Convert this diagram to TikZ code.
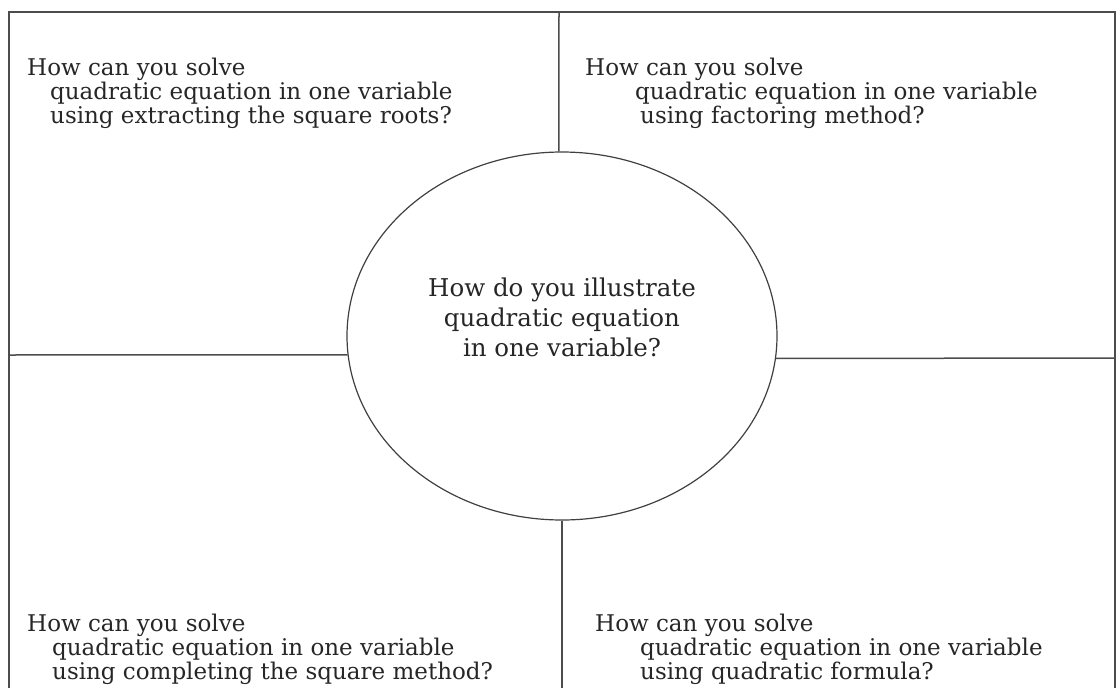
\documentclass[tikz,border=0pt]{standalone}
\usepackage{fontspec}
\setmainfont{DejaVu Serif}
\usetikzlibrary{shapes.geometric}
\begin{document}
\begin{tikzpicture}[x=1pt,y=1pt,
  frame/.style={line width=1.5pt, draw=black!70},
  oval/.style={line width=1.2pt, draw=black!75},
  qtext/.style={anchor=north west, inner sep=0pt, align=left, text=black!85,
    font=\fontsize{23}{24}\selectfont},
  ctext/.style={anchor=north, inner sep=0pt, align=center, text=black!85,
    font=\fontsize{24.5}{30}\selectfont}]
\useasboundingbox (0,0) rectangle (1116,-688);
% outer frame (open at the bottom)
\coordinate (fbl) at (9,-688);
\coordinate (ftl) at (9,-12);
\coordinate (ftr) at (1115,-12);
\coordinate (fbr) at (1115,-688);
\draw[frame] (fbl) -- (ftl) -- (ftr) -- (fbr);
% central ellipse
\node[oval, ellipse, minimum width=430pt, minimum height=368pt, inner sep=0pt] (c) at (562,-336) {};
\coordinate (topend) at (559,-12);
\coordinate (botend) at (562,-688);
\coordinate (lftend) at (9,-355);
\coordinate (rgtend) at (1115,-358);
\draw[frame] (c.91) -- (topend);
\draw[frame] (c.south) -- (botend);
\draw[frame] (c.185) -- (lftend);
\draw[frame] (c.354) -- (rgtend);
% texts
\node[ctext] (ct) at (562,-278) {How do you illustrate\\quadratic equation\\in one variable?};
\node[qtext] (tl) at (27,-58) {How can you solve\\\hspace*{23pt}quadratic equation in one variable\\\hspace*{23pt}using extracting the square roots?};
\node[qtext] (tr) at (585,-58) {How can you solve\\\hspace*{50pt}quadratic equation in one variable\\\hspace*{55pt}using factoring method?};
\node[qtext] (bl) at (27,-614) {How can you solve\\\hspace*{25pt}quadratic equation in one variable\\\hspace*{25pt}using completing the square method?};
\node[qtext] (br) at (595,-614) {How can you solve\\\hspace*{45pt}quadratic equation in one variable\\\hspace*{45pt}using quadratic formula?};
\end{tikzpicture}
\end{document}
